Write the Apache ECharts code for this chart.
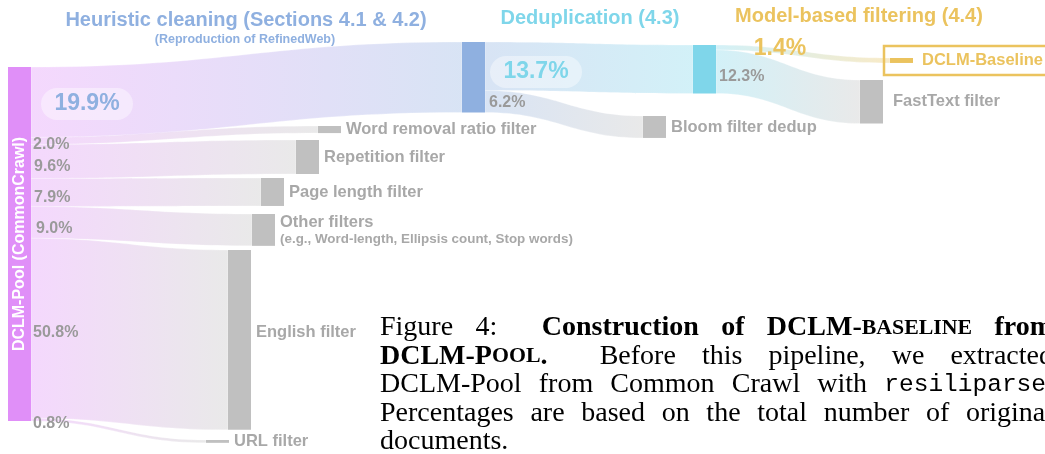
<!DOCTYPE html>
<html>
<head>
<meta charset="utf-8">
<script src="https://cdn.jsdelivr.net/npm/echarts@6/dist/echarts.min.js"></script>
<style>
  html, body { margin: 0; padding: 0; background: #fff; }
  #chart { width: 1045px; height: 454px; }
</style>
</head>
<body>
<div id="chart"></div>
<script>
const W = 1045, H = 454

// nodes, listed top to bottom inside each column
const nodeNames = [
  'DCLM-Pool (CommonCrawl)',
  'Heuristic cleaning',
  'Word removal ratio filter',
  'Repetition filter',
  'Page length filter',
  'Other filters',
  'English filter',
  'URL filter',
  'Deduplication',
  'Bloom filter dedup',
  'DCLM-Baseline',
  'FastText filter'
]
// flows, % of the original documents
const linkSources = [
  'DCLM-Pool (CommonCrawl)', 'DCLM-Pool (CommonCrawl)', 'DCLM-Pool (CommonCrawl)', 'DCLM-Pool (CommonCrawl)',
  'DCLM-Pool (CommonCrawl)', 'DCLM-Pool (CommonCrawl)', 'DCLM-Pool (CommonCrawl)',
  'Heuristic cleaning', 'Heuristic cleaning',
  'Deduplication', 'Deduplication'
]
const linkTargets = [
  'Heuristic cleaning', 'Word removal ratio filter', 'Repetition filter', 'Page length filter',
  'Other filters', 'English filter', 'URL filter',
  'Deduplication', 'Bloom filter dedup',
  'DCLM-Baseline', 'FastText filter'
]
const linkValues = [19.9, 2.0, 9.6, 7.9, 9.0, 50.8, 0.8, 13.7, 6.2, 1.4, 12.3]

const sectionTitles = ['Heuristic cleaning (Sections 4.1 & 4.2)', 'Deduplication (4.3)', 'Model-based filtering (4.4)']
const sectionSubtitle = '(Reproduction of RefinedWeb)'

// hand placed node corners (px), like in the paper figure
const nodePlace = {
  'DCLM-Pool (CommonCrawl)': [8, 67],
  'Heuristic cleaning': [462, 42],
  'Word removal ratio filter': [318, 126],
  'Repetition filter': [296, 140],
  'Page length filter': [261, 178],
  'Other filters': [252, 214],
  'English filter': [228, 250],
  'URL filter': [206, 440],
  'Deduplication': [693, 45],
  'Bloom filter dedup': [643, 116],
  'DCLM-Baseline': [890, 58],
  'FastText filter': [860, 80]
}

const GRAY = '#c0c0c0', BLUE = '#8fb0e0', CYAN = '#7fd6ea', GOLD = '#ebc35e', PINK = '#e08ff8'
const LABEL_GRAY = '#a8a8a8', PCT_GRAY = '#9a9a9a'
const nodeColor = {
  'DCLM-Pool (CommonCrawl)': PINK,
  'Heuristic cleaning': BLUE,
  'Deduplication': CYAN,
  'DCLM-Baseline': GOLD
}
const nodeLabel = {
  'DCLM-Pool (CommonCrawl)': { position: 'inside', rotate: 90, color: '#fff', fontSize: 16 },
  'Heuristic cleaning': { show: false },
  'Deduplication': { show: false },
  'English filter': { offset: [0, -7] },
  'FastText filter': { distance: 10 },
  'DCLM-Baseline': { color: GOLD, distance: 9 },
  'Other filters': {
    formatter: '{a|Other filters}\n{b|(e.g., Word-length, Ellipsis count, Stop words)}',
    rich: {
      a: { fontSize: 16.5, fontWeight: 'bold', color: LABEL_GRAY, lineHeight: 18, fontFamily: 'Liberation Sans' },
      b: { fontSize: 13.4, fontWeight: 'bold', color: LABEL_GRAY, lineHeight: 15, fontFamily: 'Liberation Sans' }
    }
  }
}

// percentage labels: link index -> [x, y, kind]
const pctPlace = {
  0: [87, 104, 'big'], 7: [536, 72, 'big'], 9: [780, 49, 'big'],
  1: [33, 145], 2: [34, 167], 3: [34, 198], 4: [36, 229], 5: [33, 333], 6: [33, 424],
  8: [489, 103], 10: [719, 77]
}
const bigColor = { 0: BLUE, 7: CYAN, 9: GOLD }

const chart = echarts.init(document.getElementById('chart'))

const graphic = []

// section headings
graphic.push(
  { type: 'text', x: 246, y: 20, z: 100, style: { text: sectionTitles[0], fill: BLUE, fontSize: 20, fontWeight: 'bold', fontFamily: 'Liberation Sans', align: 'center', verticalAlign: 'middle' } },
  { type: 'text', x: 245, y: 40, z: 100, style: { text: sectionSubtitle, fill: BLUE, fontSize: 12.5, fontWeight: 'bold', fontFamily: 'Liberation Sans', align: 'center', verticalAlign: 'middle' } },
  { type: 'text', x: 590, y: 18, z: 100, style: { text: sectionTitles[1], fill: CYAN, fontSize: 20, fontWeight: 'bold', fontFamily: 'Liberation Sans', align: 'center', verticalAlign: 'middle' } },
  { type: 'text', x: 859, y: 16, z: 100, style: { text: sectionTitles[2], fill: GOLD, fontSize: 20, fontWeight: 'bold', fontFamily: 'Liberation Sans', align: 'center', verticalAlign: 'middle' } },
  { type: 'rect', z: 100, shape: { x: 884, y: 46, width: 200, height: 29 }, style: { fill: 'none', stroke: GOLD, lineWidth: 2.5 } }
)

Object.keys(pctPlace).forEach(k => {
  const [x, y, kind] = pctPlace[k]
  const txt = linkValues[k].toFixed(1) + '%'
  if (kind === 'big') {
    if (k !== '9') {
      graphic.push({ type: 'rect', z: 99, shape: { x: x - 46, y: y - 16, width: 92, height: 32, r: 16 }, style: { fill: 'rgba(255,255,255,0.4)' } })
    }
    graphic.push({ type: 'text', x, y, z: 100, style: { text: txt, fill: bigColor[k], fontSize: 23, fontWeight: 'bold', fontFamily: 'Liberation Sans', align: 'center', verticalAlign: 'middle' } })
  } else {
    graphic.push({ type: 'text', x, y, z: 100, style: { text: txt, fill: PCT_GRAY, fontSize: 16, fontWeight: 'bold', fontFamily: 'Liberation Sans', verticalAlign: 'middle' } })
  }
})

// caption of the paper figure, justified by hand
const CAP_SIZE = 28
const R = ['normal', CAP_SIZE, 'Liberation Serif']
const B = ['bold', CAP_SIZE, 'Liberation Serif']
const SC = ['bold', CAP_SIZE * 0.78, 'Liberation Serif']
const TT = ['normal', CAP_SIZE * 0.875, 'Liberation Mono']
const capLines = [
  { y: 328, wide: [1], words: [[['Figure', R]], [['4:', R]], [['Construction', B]], [['of', B]], [['DCLM-', B], ['BASELINE', SC]], [['from', B]]] },
  { y: 356.5, wide: [0], words: [[['DCLM-P', B], ['OOL', SC], ['.', B]], [['Before', R]], [['this', R]], [['pipeline,', R]], [['we', R]], [['extracted', R]]] },
  { y: 385, wide: [], words: [[['DCLM-Pool', R]], [['from', R]], [['Common', R]], [['Crawl', R]], [['with', R]], [['resiliparse', TT], ['.', R]]] },
  { y: 413.5, wide: [], words: 'Percentages are based on the total number of original'.split(' ').map(w => [[w, R]]) },
  { y: 442, wide: null, words: [[['documents.', R]]] }
]
const ctx = document.createElement('canvas').getContext('2d')
const fontStr = f => `${f[0]} ${f[1]}px "${f[2]}"`
const measure = (t, f) => { ctx.font = fontStr(f); return ctx.measureText(t).width }
const CAP_L = 380, CAP_R = 1053
capLines.forEach(line => {
  const widths = line.words.map(w => w.reduce((s, r) => s + measure(r[0], r[1]), 0))
  const total = widths.reduce((a, b) => a + b, 0)
  const gaps = line.words.slice(1).map((_, i) => (line.wide && line.wide.includes(i)) ? 2 : 1)
  const unit = line.wide ? (CAP_R - CAP_L - total) / gaps.reduce((a, b) => a + b, 0) : measure(' ', R)
  let x = CAP_L
  line.words.forEach((w, i) => {
    w.forEach(r => {
      graphic.push({ type: 'text', x, y: line.y, z: 100, style: { text: r[0], fill: '#000', fontWeight: r[1][0], fontSize: r[1][1], fontFamily: r[1][2], verticalAlign: 'middle' } })
      x += measure(r[0], r[1])
    })
    if (i < gaps.length) x += unit * gaps[i]
  })
})

chart.setOption({
  animation: false,
  graphic,
  series: [
    {
      type: 'sankey',
      left: 0,
      top: 0,
      right: 0,
      bottom: 0,
      nodeWidth: 23,
      nodeGap: 16.67,
      nodeAlign: 'left',
      layoutIterations: 0,
      draggable: false,
      emphasis: { disabled: true },
      label: { color: LABEL_GRAY, fontSize: 16.5, fontWeight: 'bold', fontFamily: 'Liberation Sans', distance: 5 },
      lineStyle: { color: 'gradient', opacity: 0.35, curveness: 0.45, borderColor: '#fff', borderWidth: 0.8 },
      data: nodeNames.map(name => ({
        name,
        localX: nodePlace[name][0] / W,
        localY: nodePlace[name][1] / H,
        itemStyle: { color: nodeColor[name] || GRAY, borderWidth: 0 },
        label: nodeLabel[name] || {}
      })),
      links: linkValues.map((value, i) => ({ source: linkSources[i], target: linkTargets[i], value }))
    }
  ]
})
</script>
</body>
</html>
